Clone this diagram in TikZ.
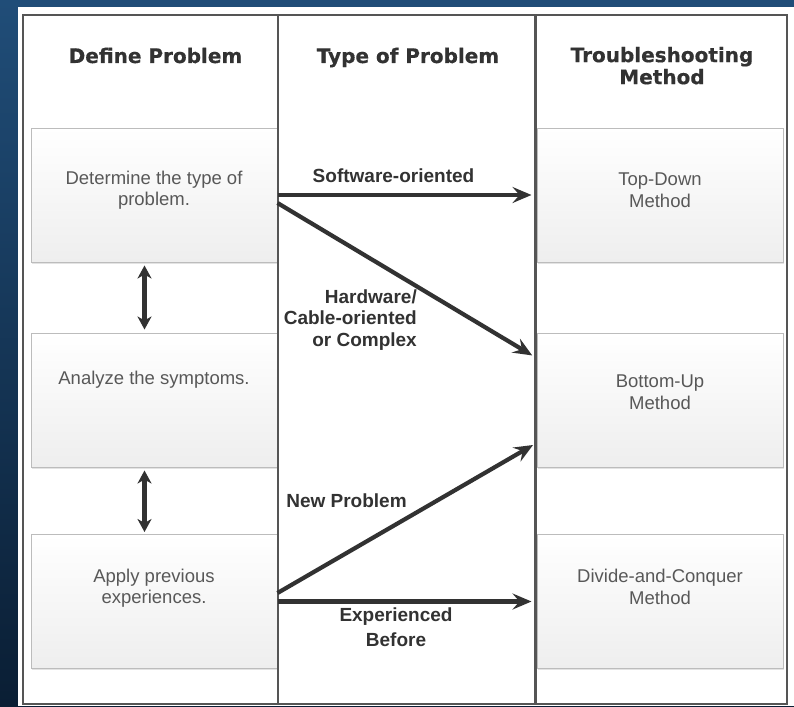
\documentclass[tikz,border=0pt]{standalone}
\usepackage{fontspec}
\setmainfont{Liberation Sans}
\newfontfamily\headfont[BoldFeatures={FakeBold=0.5}]{DejaVu Sans}
\usetikzlibrary{arrows.meta,shadows,calc}

\definecolor{bgtop}{RGB}{32,77,120}
\definecolor{bgbot}{RGB}{10,30,52}
\definecolor{framegray}{RGB}{85,85,85}
\definecolor{ink}{RGB}{50,50,50}
\definecolor{boxtext}{RGB}{88,88,88}
\definecolor{boxedge}{RGB}{188,188,188}
\definecolor{boxlow}{RGB}{238,238,238}

\begin{document}
\begin{tikzpicture}[x=1pt,y=-1pt,
  stepbox/.style={draw=boxedge, line width=1pt, top color=white, bottom color=boxlow,
    minimum width=246pt, minimum height=134pt, inner sep=0pt,
    drop shadow={opacity=0.22, shadow xshift=0.8pt, shadow yshift=-1.5pt}},
  boxlabel/.style={font=\fontsize{18.5}{21.5}\selectfont, text=boxtext, align=center, inner sep=0pt},
  headlabel/.style={font=\headfont\bfseries\fontsize{20}{22}\selectfont, text=ink, align=center, inner sep=0pt},
  flowlabel/.style={font=\bfseries\fontsize{19}{21.5}\selectfont, text=ink, inner sep=0pt},
  flowarrow/.style={draw=ink, line width=4.2pt, line cap=butt,
    -{Stealth[length=19pt,width=16pt,inset=7pt]}},
  linkarrow/.style={draw=ink, line width=4.5pt,
    {Stealth[length=13pt,width=14pt,inset=4pt]}-{Stealth[length=13pt,width=14pt,inset=4pt]}},
  framestroke/.style={draw=framegray, line width=2.2pt}]

\useasboundingbox (0,0) rectangle (794,706);

% blue backdrop and white sheet
\shade[top color=bgtop, bottom color=bgbot] (0,0) rectangle (794,706);
\fill[white] (18,7) rectangle (794,706);

% step boxes: problem definition (left) and methods (right)
\node[stepbox] (d1) at (154,195) {};
\node[stepbox] (d2) at (154,400) {};
\node[stepbox] (d3) at (154,601.5) {};
\node[stepbox] (m1) at (660,195) {};
\node[stepbox] (m2) at (660,400) {};
\node[stepbox] (m3) at (660,601.5) {};

% table frame and column rules
\draw[framestroke] (23,15) rectangle (787,704);
\draw[framestroke] (278,15) -- (278,704);
\draw[framestroke] (535.5,15) -- (535.5,704);

% column headings
\node[headlabel, anchor=base] (h1) at (155.5,63) {Define Problem};
\node[headlabel, anchor=base] (h2) at (408,63) {Type of Problem};
\node[headlabel] (h3) at (662,65.7) {Troubleshooting\\Method};

% box texts
\node[boxlabel] (d1t) at ([yshift=5pt]d1.center) {Determine the type of\\problem.};
\node[boxlabel] (d2t) at ([yshift=20pt]d2.center) {Analyze the symptoms.};
\node[boxlabel] (d3t) at ([yshift=13.5pt]d3.center) {Apply previous\\experiences.};
\node[boxlabel] (m1t) at ([yshift=5pt]m1.center) {Top-Down\\Method};
\node[boxlabel] (m2t) at ([yshift=8pt]m2.center) {Bottom-Up\\Method};
\node[boxlabel] (m3t) at ([yshift=14.5pt]m3.center) {Divide-and-Conquer\\Method};

% links between the definition steps
\draw[linkarrow, shorten <=3pt, shorten >=3pt] ([xshift=-9.5pt]d1.south) -- ([xshift=-9.5pt]d2.north);
\draw[linkarrow, shorten <=3pt, shorten >=2pt] ([xshift=-9.5pt]d2.south) -- ([xshift=-9.5pt]d3.north);

% problem types leading to methods
\draw[flowarrow, shorten >=5pt] (d1.east) -- (m1.west);
\draw[flowarrow, shorten >=5pt] ([yshift=-8pt]d1.east) -- ([yshift=42pt]m2.west);
\draw[flowarrow, shorten >=4pt] ([yshift=8.5pt]d3.east) -- ([yshift=-43pt]m2.west);
\draw[flowarrow, shorten >=5pt] (d3.east) -- (m3.west);

% arrow labels
\node[flowlabel, anchor=base] (l1) at (393.5,182) {Software-oriented};
\node[flowlabel, align=right, anchor=north east] (l2) at (417,289.5) {Hardware/\\Cable-oriented\\or Complex};
\node[flowlabel, anchor=base] (l3) at (346.5,507) {New Problem};
\node[flowlabel, align=center, anchor=north, font=\bfseries\fontsize{19}{25}\selectfont] (l4) at (396,607.5) {Experienced\\Before};
\end{tikzpicture}
\end{document}
